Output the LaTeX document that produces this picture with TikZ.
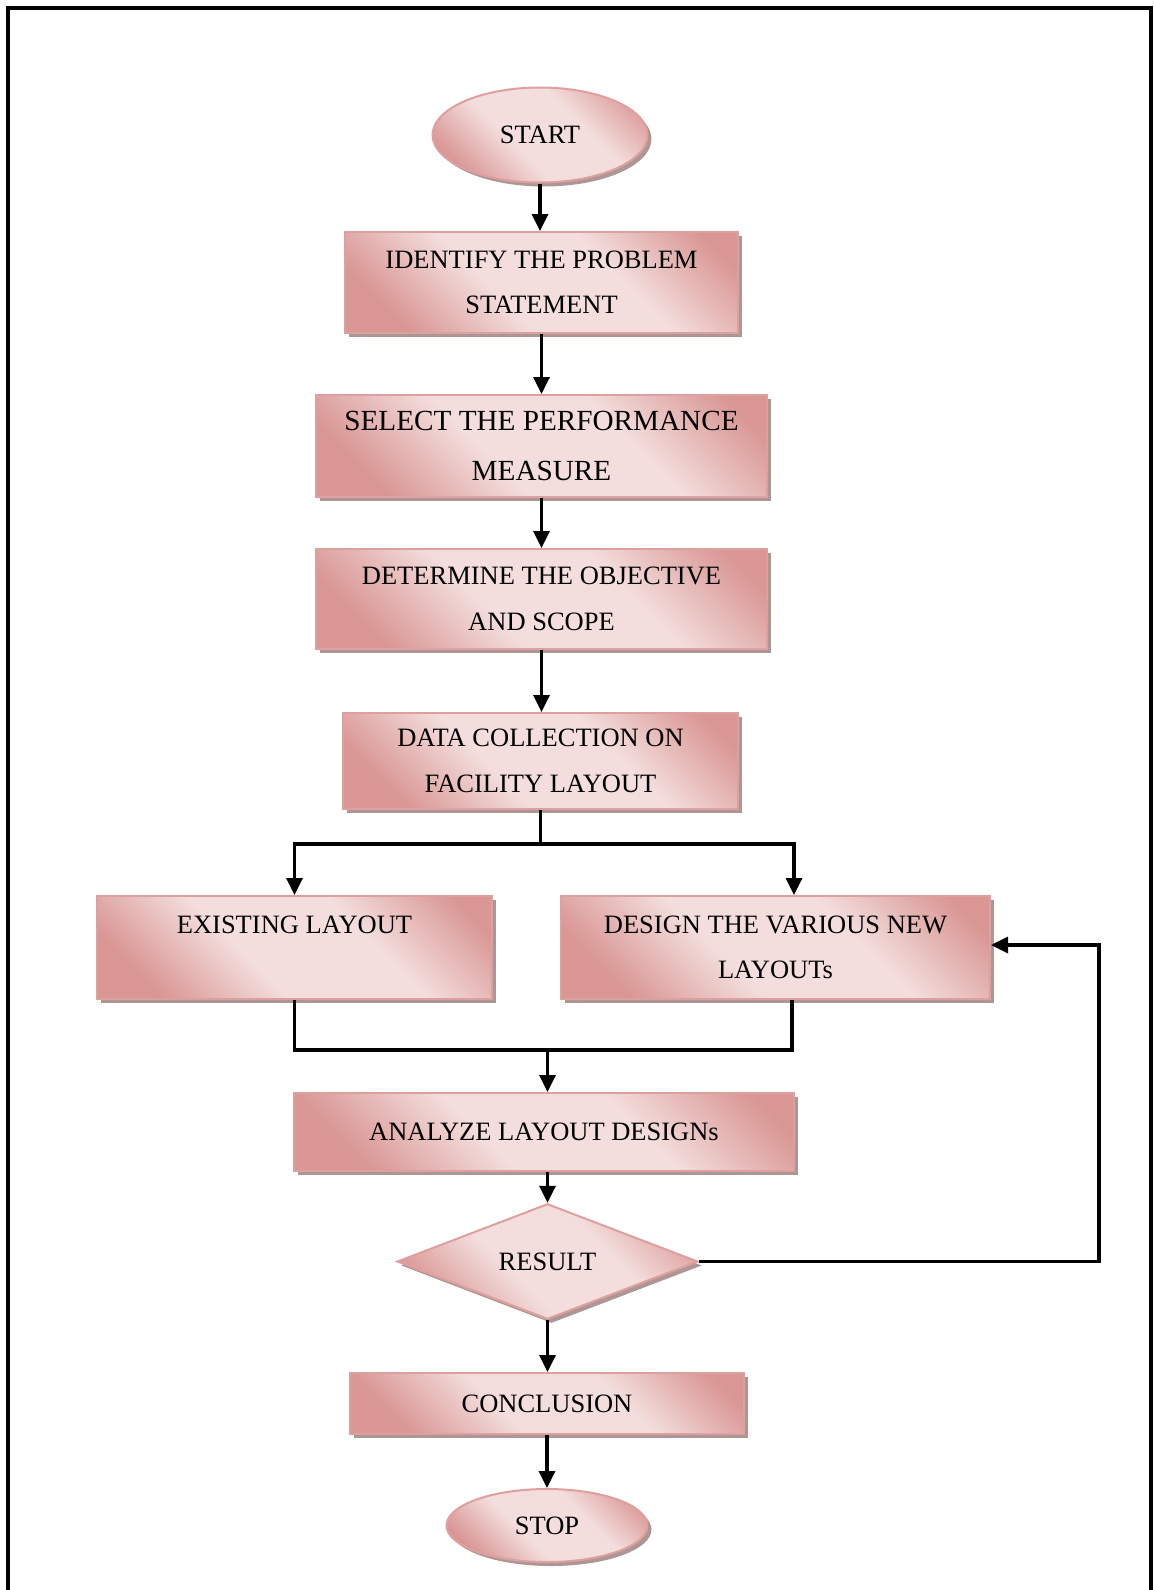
\documentclass[tikz,border=0pt]{standalone}
\usepackage{fontspec}
\setmainfont{Liberation Serif}
\usepackage{xcolor}
\usetikzlibrary{shapes.geometric,arrows.meta,shadows}
\definecolor{pinkdark}{RGB}{217,150,148}
\definecolor{pinklight}{RGB}{243,222,221}
\definecolor{pinkedge}{RGB}{222,160,158}
\definecolor{pinkshade}{RGB}{172,150,150}
\pgfdeclarehorizontalshading{pinkband}{100bp}{color(0bp)=(pinkdark); color(24bp)=(pinkdark); color(42bp)=(pinklight); color(62bp)=(pinklight); color(80bp)=(pinkdark); color(100bp)=(pinkdark)}
\begin{document}
\begin{tikzpicture}[x=0.5pt,y=-0.5pt,
    chart text/.style={font=\fontsize{13.25}{22.8}\selectfont,align=center,inner sep=0pt},
    shaded fill/.style={shade,shading=pinkband,shading angle=45,draw=pinkedge,line width=1pt,
        drop shadow={shadow xshift=2pt,shadow yshift=-2pt,fill=pinkshade,opacity=1}},
    process box/.style={rectangle,shaded fill,chart text},
    end oval/.style={ellipse,shaded fill,chart text},
    decision/.style={diamond,shaded fill,chart text},
    link/.style={line width=1.7pt},
    link arrow/.style={link,-{Triangle[length=8.5pt,width=8pt]}}]
                \useasboundingbox (0,0) rectangle (1153,1590);
                \draw[line width=1.75pt] (8,1590) -- (8,8) -- (1151,8) -- (1151,1590);
                \node[end oval,minimum width=107.5pt,minimum height=47.5pt] (start) at (540,135) {START};
                \node[process box,minimum width=196.5pt,minimum height=50.5pt] (identify) at (541.5,282.5) {IDENTIFY THE PROBLEM\\STATEMENT};
                \node[process box,minimum width=225.5pt,minimum height=51pt,font=\fontsize{14.6}{25.3}\selectfont] (select) at (541.5,446) {SELECT THE PERFORMANCE\\MEASURE};
                \node[process box,minimum width=225.5pt,minimum height=50pt] (determine) at (541.5,599) {DETERMINE THE OBJECTIVE\\AND SCOPE};
                \node[process box,minimum width=197.5pt,minimum height=48pt] (data) at (540.5,761) {DATA COLLECTION ON\\FACILITY LAYOUT};
                \node[process box,minimum width=197.5pt,minimum height=51.5pt] (existing) at (294.5,947.5) {EXISTING LAYOUT\\\mbox{}};
                \node[process box,minimum width=214.5pt,minimum height=51.5pt] (design) at (775.5,947.5) {DESIGN THE VARIOUS NEW\\LAYOUTs};
                \node[process box,minimum width=250pt,minimum height=39pt] (analyze) at (544,1132) {ANALYZE LAYOUT DESIGNs};
                \node[decision,minimum width=150.5pt,minimum height=56.5pt] (result) at (547.5,1261.5) {RESULT};
                \node[process box,minimum width=197pt,minimum height=30.5pt] (conclusion) at (547,1403.5) {CONCLUSION};
                \node[end oval,minimum width=100.5pt,minimum height=36.5pt] (stop) at (547,1525.5) {STOP};
                \coordinate (split) at (540.5,844);
                \coordinate (merge) at (547.5,1050);
                \coordinate (loop) at (1099,945);
                \draw[link arrow] (start.south) -- (start.south |- identify.north);
                \draw[link arrow] (identify) -- (select);
                \draw[link arrow] (select) -- (determine);
                \draw[link arrow] (determine.south) -- (determine.south |- data.north);
                \draw[link] (data) -- (split);
                \draw[link arrow] (split) -| (existing.north);
                \draw[link arrow] (split) -| ([xshift=9.25pt]design.north);
                \draw[link] (existing.south) |- (merge);
                \draw[link] ([xshift=8.25pt]design.south) |- (merge);
                \draw[link arrow] (merge) -- (merge |- analyze.north);
                \draw[link arrow] (result.north |- analyze.south) -- (result.north);
                \draw[link arrow] (result.south) -- (result.south |- conclusion.north);
                \draw[link arrow] (conclusion) -- (stop);
                \draw[link arrow] (result.east) -| (loop) -- (loop -| design.east);
            \end{tikzpicture}
\end{document}
